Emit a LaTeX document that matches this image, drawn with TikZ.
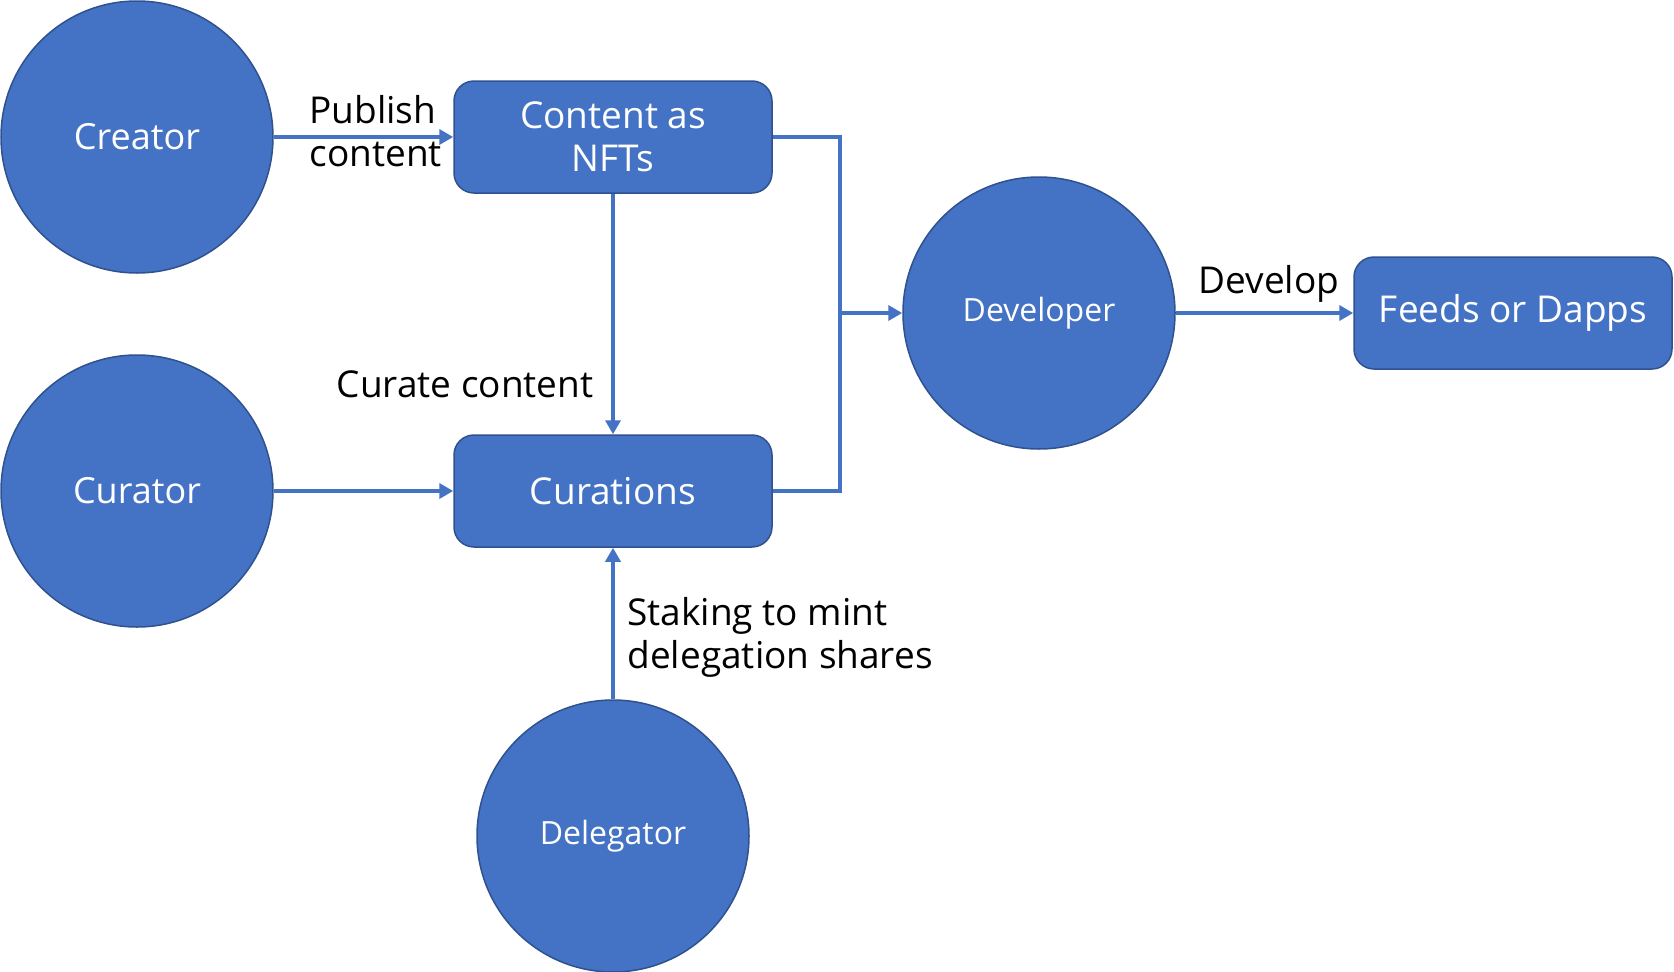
\documentclass[tikz,border=0pt]{standalone}
\usepackage{fontspec}
\setmainfont{Open Sans}
\usetikzlibrary{arrows.meta, positioning}
\definecolor{boxblue}{RGB}{68,114,196}
\definecolor{edgeblue}{RGB}{47,82,143}

\begin{document}
\begin{tikzpicture}[x=1pt, y=-1pt,
  actor/.style={circle, fill=boxblue, draw=edgeblue, line width=1.5pt, minimum size=272pt, inner sep=0pt, text=white, font=\fontsize{36}{44}\selectfont},
  item/.style={rectangle, rounded corners=20pt, fill=boxblue, draw=edgeblue, line width=1.5pt, minimum width=318pt, minimum height=112pt, text=white, align=center, font=\fontsize{37}{43}\selectfont},
  link/.style={boxblue, line width=4pt},
  flow/.style={link, -{Triangle[length=14pt, width=15pt]}},
  lbl/.style={font=\fontsize{37}{43}\selectfont, align=left}]
  \useasboundingbox (0,0) rectangle (1674,972);
  % Actors
  \node[actor] (creator) at (137,137) {Creator};
  \node[actor] (curator) at (137,491) {Curator};
  \node[actor, font=\fontsize{32}{40}\selectfont] (developer) at (1039,313) {Developer};
  \node[actor, font=\fontsize{32}{40}\selectfont] (delegator) at (613,836) {Delegator};
  % Boxes
  \node[item] (content) at (613,137) {Content as\\NFTs};
  \node[item] (curations) at (613,491) {Curations};
  \node[item] (feeds) at (1513,313) {Feeds or Dapps};
  \coordinate (jn) at (840,313);
  % Connectors
  \draw[flow] (creator) -- (content);
  \draw[flow] (curator) -- (curations);
  \draw[flow] (content) -- (curations);
  \draw[flow] (delegator) -- (curations);
  \draw[link] (content.east) -| (jn) |- (curations.east);
  \draw[flow] (jn) -- (developer);
  \draw[flow] (developer) -- (feeds);
  % Labels
  \node[lbl, anchor=west] (publish) at (306,131) {Publish\\content};
  \node[lbl] (curate) at (465,384) {Curate content};
  \node[lbl, anchor=west] (staking) at (624,637) {Staking to mint\\delegation shares};
  \node[lbl] (develop) at (1269,284) {Develop};
\end{tikzpicture}
\end{document}
